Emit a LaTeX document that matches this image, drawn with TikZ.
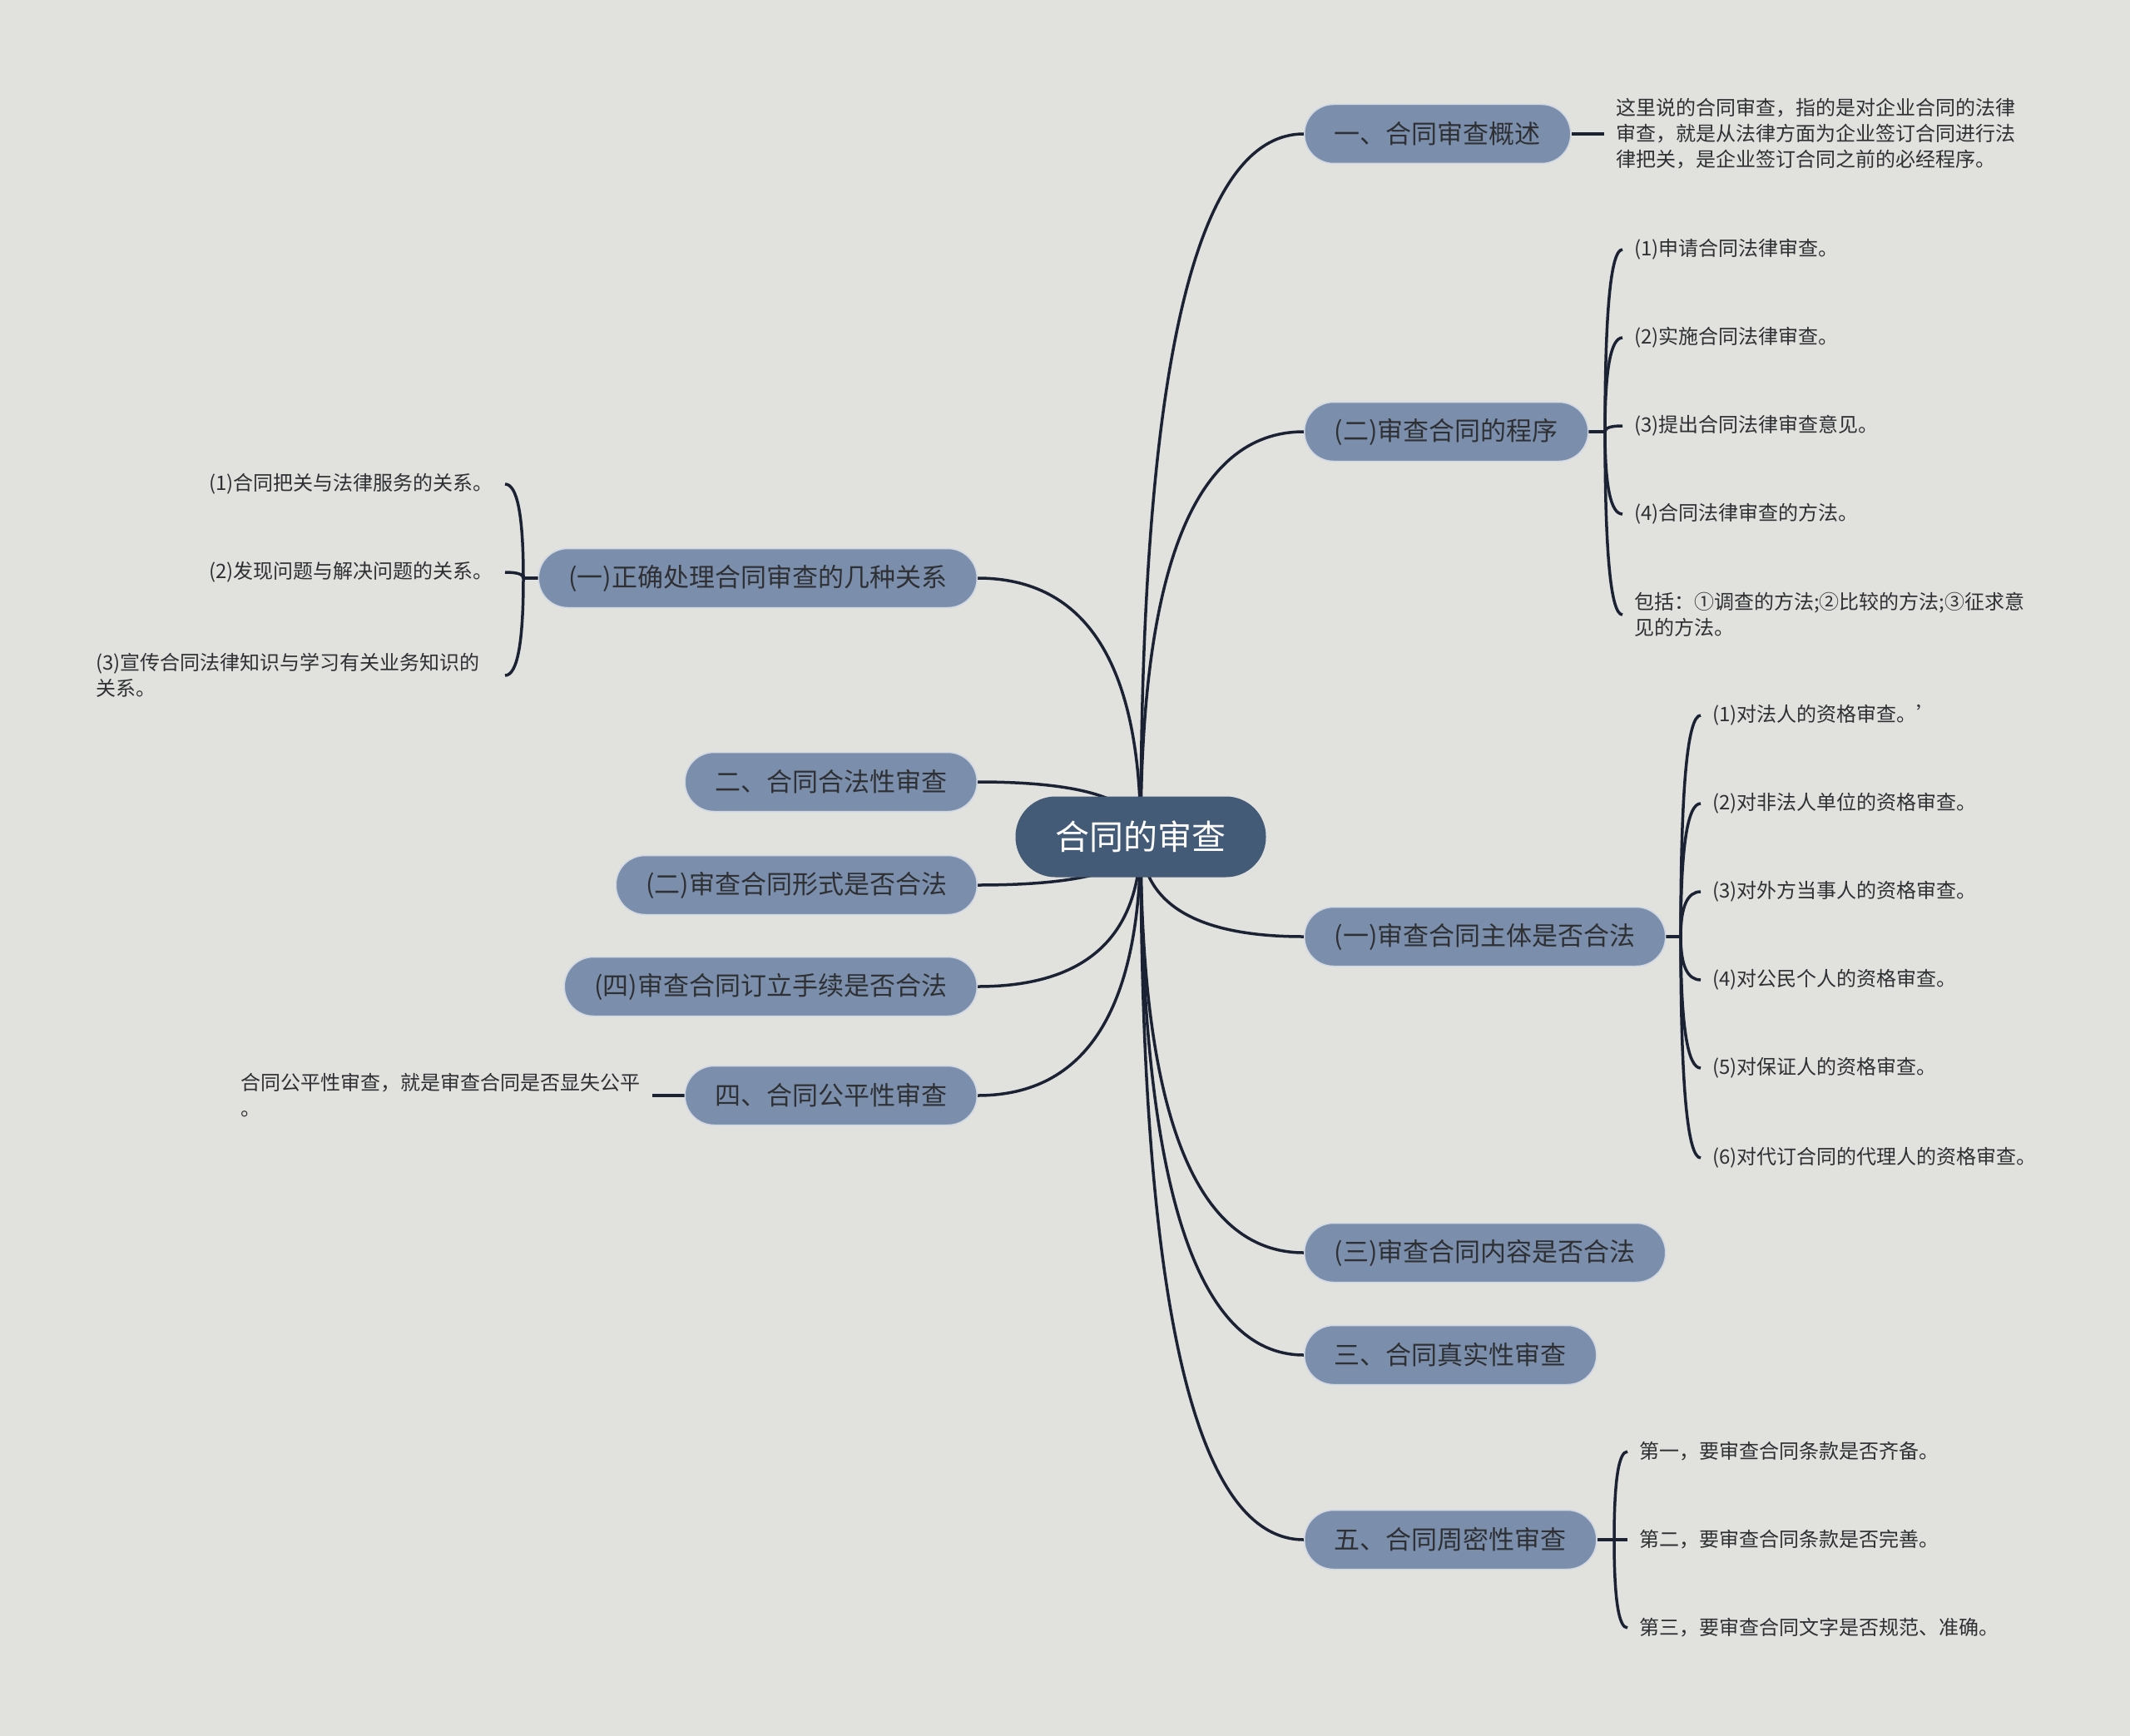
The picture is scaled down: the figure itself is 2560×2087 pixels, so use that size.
\documentclass[tikz,border=0pt]{standalone}
\usepackage{fontspec}
\setmainfont{Noto Sans CJK SC}
\usetikzlibrary{calc,positioning,backgrounds}
\definecolor{paper}{HTML}{E1E2DE}
\definecolor{rootblue}{HTML}{445B78}
\definecolor{topicblue}{HTML}{7B8FAD}
\definecolor{ink}{HTML}{1B2233}
\definecolor{textgray}{HTML}{2E3033}
\tikzset{
  root/.style={rounded corners=48pt,fill=rootblue,text=white,font=\fontsize{41}{49}\selectfont,minimum height=97pt,minimum width=301pt,inner sep=0pt},
  topic/.style={rounded corners=35pt,fill=topicblue,draw=topicblue!35!white,line width=1.5pt,text=textgray,font=\fontsize{31}{37}\selectfont,minimum height=71pt,inner xsep=36pt,inner ysep=0pt},
  leaf/.style={text=textgray,font=\fontsize{24}{31}\selectfont,inner xsep=14pt,inner ysep=0pt,align=left},
  link/.style={draw=ink,line width=3.5pt,to path={.. controls ($(\tikztostart)!2/3!(\tikztostart |- \tikztotarget)$) and ($(\tikztotarget)!2/3!(\tikztostart |- \tikztotarget)$) .. (\tikztotarget)}},
  stub/.style={draw=ink,line width=3.5pt}
}
\begin{document}
\begin{tikzpicture}[x=1pt,y=-1pt]
\useasboundingbox (0,0) rectangle (2560,2087);

% centre
\node[root] (root) at (1371,1006) {合同的审查};

% right branches
\node[topic,anchor=west,minimum width=319pt] (r1) at (1567,161) {一、合同审查概述};
\node[topic,anchor=west,minimum width=338pt] (r2) at (1567,519) {(二)审查合同的程序};
\node[topic,anchor=west,minimum width=429pt] (r3) at (1567,1126) {(一)审查合同主体是否合法};
\node[topic,anchor=west,minimum width=429pt] (r4) at (1567,1506) {(三)审查合同内容是否合法};
\node[topic,anchor=west,minimum width=348pt] (r5) at (1567,1629) {三、合同真实性审查};
\node[topic,anchor=west,minimum width=348pt] (r6) at (1567,1851) {五、合同周密性审查};

% left branches
\node[topic,anchor=east,minimum width=524pt] (l1) at (1175,695) {(一)正确处理合同审查的几种关系};
\node[topic,anchor=east,minimum width=348pt] (l2) at (1175,940) {二、合同合法性审查};
\node[topic,anchor=east,minimum width=431pt] (l3) at (1175,1064) {(二)审查合同形式是否合法};
\node[topic,anchor=east,minimum width=493pt] (l4) at (1175,1186) {(四)审查合同订立手续是否合法};
\node[topic,anchor=east,minimum width=348pt] (l5) at (1175,1317) {四、合同公平性审查};

% leaves
\node[leaf,anchor=west] (r1n) at (1928,161) {这里说的合同审查，指的是对企业合同的法律\\审查，就是从法律方面为企业签订合同进行法\\律把关，是企业签订合同之前的必经程序。};

\coordinate (r2j) at (1929,519);
\node[leaf,anchor=west] (r2a) at (1950,300) {(1)申请合同法律审查。};
\node[leaf,anchor=west] (r2b) at (1950,406) {(2)实施合同法律审查。};
\node[leaf,anchor=west] (r2c) at (1950,512) {(3)提出合同法律审查意见。};
\node[leaf,anchor=west] (r2d) at (1950,618) {(4)合同法律审查的方法。};
\node[leaf,anchor=west] (r2e) at (1950,739) {包括：①调查的方法;②比较的方法;③征求意\\见的方法。};

\coordinate (r3j) at (2020,1126);
\node[leaf,anchor=west] (r3a) at (2044,860) {(1)对法人的资格审查。’};
\node[leaf,anchor=west] (r3b) at (2044,966) {(2)对非法人单位的资格审查。};
\node[leaf,anchor=west] (r3c) at (2044,1072) {(3)对外方当事人的资格审查。};
\node[leaf,anchor=west] (r3d) at (2044,1178) {(4)对公民个人的资格审查。};
\node[leaf,anchor=west] (r3e) at (2044,1284) {(5)对保证人的资格审查。};
\node[leaf,anchor=west] (r3f) at (2044,1392) {(6)对代订合同的代理人的资格审查。};

\coordinate (r6j) at (1940,1851);
\node[leaf,anchor=west] (r6a) at (1956,1745) {第一，要审查合同条款是否齐备。};
\node[leaf,anchor=west] (r6b) at (1956,1851) {第二，要审查合同条款是否完善。};
\node[leaf,anchor=west] (r6c) at (1956,1957) {第三，要审查合同文字是否规范、准确。};

\coordinate (l1j) at (629,695);
\node[leaf,anchor=east] (l1a) at (607,582) {(1)合同把关与法律服务的关系。};
\node[leaf,anchor=east] (l1b) at (607,688) {(2)发现问题与解决问题的关系。};
\node[leaf,anchor=east,inner xsep=30pt] (l1c) at (607,812) {(3)宣传合同法律知识与学习有关业务知识的\\关系。};

\node[leaf,anchor=east] (l5n) at (784,1317) {合同公平性审查，就是审查合同是否显失公平\\。};

\begin{scope}[on background layer]
\fill[paper] (0,0) rectangle (2560,2087);

\draw[link] (root.center) to (r1.west);
\draw[link] (root.center) to (r2.west);
\draw[link] (root.center) to (r3.west);
\draw[link] (root.center) to (r4.west);
\draw[link] (root.center) to (r5.west);
\draw[link] (root.center) to (r6.west);
\draw[link] (root.center) to (l1.east);
\draw[link] (root.center) to (l2.east);
\draw[link] (root.center) to (l3.east);
\draw[link] (root.center) to (l4.east);
\draw[link] (root.center) to (l5.east);

\draw[stub] (r1.east) -- (r1n.west);

\draw[stub] (r2.east) -- (r2j);
\draw[link] (r2j) to (r2a.west);
\draw[link] (r2j) to (r2b.west);
\draw[link] (r2j) to (r2c.west);
\draw[link] (r2j) to (r2d.west);
\draw[link] (r2j) to (r2e.west);

\draw[stub] (r3.east) -- (r3j);
\draw[link] (r3j) to (r3a.west);
\draw[link] (r3j) to (r3b.west);
\draw[link] (r3j) to (r3c.west);
\draw[link] (r3j) to (r3d.west);
\draw[link] (r3j) to (r3e.west);
\draw[link] (r3j) to (r3f.west);

\draw[stub] (r6.east) -- (r6j);
\draw[link] (r6j) to (r6a.west);
\draw[link] (r6j) to (r6b.west);
\draw[link] (r6j) to (r6c.west);

\draw[stub] (l1.west) -- (l1j);
\draw[link] (l1j) to (l1a.east);
\draw[link] (l1j) to (l1b.east);
\draw[link] (l1j) to (l1c.east);

\draw[stub] (l5.west) -- (l5n.east);
\end{scope}
\end{tikzpicture}
\end{document}
